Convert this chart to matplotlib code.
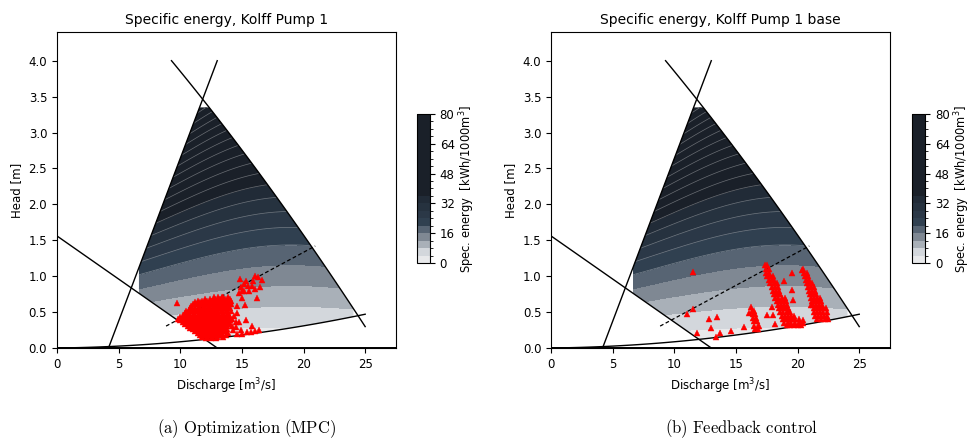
import numpy as np
import matplotlib.pyplot as plt
from matplotlib.patches import Polygon
from matplotlib.colors import ListedColormap, BoundaryNorm

# pump envelope and operating curves (Q in m3/s, H in m)
head_max = 3.35
q_env_min, q_env_max = 6.65, 24.05
sys_q, sys_h = [0.0, 13.0], [1.56, 0.0]          # lower-left straight line
eff_q, eff_h = [4.18, 13.0], [0.0, 4.0]          # steep straight line
speed_coef = [5.774, -0.1743, -0.00179]          # max-speed curve H(Q)
speed_q = [9.29, 25.0]
floor_coef = [0.0, 0.00188, 0.000677]            # lower head curve H(Q)
floor_q = [0.0, 25.0]
best_q, best_h = [8.85, 20.95], [0.305, 1.42]    # dashed line

# specific energy model E(Q, H), kWh/1000m3
e_k, e_qc, e_a, e_d, e_u0 = 0.00267, 19.0, 13.8, 3.6, 1.2
levels = np.arange(0, 84, 4)
band_colors = ['#e8e9eb', '#d3d7dc', '#a9b0b8', '#7f8893', '#576473',
               '#304050', '#2b3847', '#26323f', '#212b37'] + ['#1a2029'] * 11

# operating points, optimization (MPC)
mpc_rows = {
    0.71: [12.7, 13.1, 13.5, 13.9],
    0.685: [12.0, 12.4, 12.8, 13.2, 13.6, 14.0],
    0.66: [11.4, 11.8, 12.2, 12.6, 13.0, 13.4, 13.8, 14.1],
    0.635: [11.2, 11.6, 12.0, 12.4, 12.8, 13.2, 13.6, 14.0],
    0.61: [11.0, 11.3, 11.7, 12.1, 12.5, 12.9, 13.3, 13.7, 14.1],
    0.585: [10.9, 11.5, 11.9, 12.3, 12.7, 13.1, 13.5, 13.9],
    0.56: [10.8, 11.2, 11.6, 12.0, 12.4, 12.8, 13.2, 13.6, 14.0],
    0.535: [10.7, 11.0, 11.4, 11.8, 12.2, 12.6, 13.0, 13.4, 13.8],
    0.51: [10.5, 10.9, 11.3, 11.7, 12.1, 12.5, 12.9, 13.3, 13.7, 14.1],
    0.485: [10.4, 10.7, 11.1, 11.5, 11.9, 12.3, 12.7, 13.1, 13.5, 13.9],
    0.46: [10.2, 10.6, 11.0, 11.4, 11.8, 12.2, 12.6, 13.0, 13.4, 13.8],
    0.435: [10.0, 10.4, 10.8, 11.2, 11.6, 12.0, 12.4, 12.8, 13.2, 13.6, 14.0],
    0.41: [9.8, 10.2, 10.6, 11.0, 11.4, 11.8, 12.2, 12.6, 13.0, 13.4, 13.8, 14.2],
    0.385: [10.0, 10.4, 10.8, 11.2, 11.6, 12.0, 12.4, 12.8, 13.2, 13.6, 14.0],
    0.36: [10.2, 10.6, 11.0, 11.4, 11.8, 12.2, 12.6, 13.0, 13.4, 13.8],
    0.335: [10.4, 10.8, 11.2, 11.6, 12.0, 12.4, 12.8, 13.2, 13.6, 14.0],
    0.31: [10.6, 11.0, 11.4, 11.8, 12.2, 12.6, 13.0, 13.4, 13.8, 14.2],
    0.285: [10.8, 11.2, 11.6, 12.0, 12.4, 12.8, 13.2, 13.6],
    0.26: [11.0, 11.4, 11.8, 12.2, 12.6, 13.0, 13.4, 13.8],
    0.235: [11.2, 11.6, 12.0, 12.4, 12.8, 13.2, 13.6],
    0.21: [11.4, 11.8, 12.2, 12.6, 13.0, 13.4, 13.9],
    0.185: [11.6, 12.0, 12.4, 12.8, 13.2, 13.7],
    0.16: [11.8, 12.2, 12.6, 13.0, 13.5],
    0.14: [12.1, 12.5, 12.9],
}
mpc_q_extra = [9.75, 13.41, 14.82, 16.04, 16.34, 16.66, 15.17, 15.5, 15.85,
               16.48, 14.9, 15.2, 14.8, 16.26, 15.23, 14.63, 14.99, 14.58,
               14.77, 15.31, 15.86, 16.4, 14.5, 14.9, 15.45, 15.0, 15.6, 16.1,
               15.3, 15.9, 14.4, 14.5, 14.3, 14.6, 15.0, 15.7, 16.1]
mpc_h_extra = [0.63, 0.707, 0.957, 1.009, 0.985, 0.948, 0.89, 0.862, 0.862,
               0.855, 0.85, 0.80, 0.76, 0.69, 0.604, 0.59, 0.69, 0.483,
               0.367, 0.39, 0.311, 0.25, 0.298, 0.25, 0.228, 0.80, 0.80, 0.82,
               0.93, 0.93, 0.45, 0.36, 0.25, 0.20, 0.20, 0.22, 0.24]

# operating points, feedback control
fb_rows = {
    1.15: [17.35, 17.55],
    1.10: [17.4, 17.65, 20.45],
    1.05: [17.45, 17.7, 20.5, 20.75],
    1.00: [17.55, 17.8, 18.0, 20.6, 20.85],
    0.95: [17.65, 17.9, 18.1, 20.7, 20.95],
    0.90: [17.8, 18.05, 18.3, 20.75, 21.0, 21.2],
    0.85: [17.9, 18.15, 18.4, 20.85, 21.1, 21.35],
    0.80: [18.0, 18.25, 18.5, 20.95, 21.2, 21.45],
    0.75: [18.1, 18.35, 18.6, 21.0, 21.25, 21.5],
    0.70: [18.2, 18.45, 18.7, 18.95, 21.05, 21.3, 21.55, 21.8],
    0.65: [18.3, 18.55, 18.8, 19.05, 21.15, 21.4, 21.65, 21.9],
    0.60: [18.4, 18.65, 18.9, 19.15, 21.25, 21.5, 21.75, 22.0],
    0.55: [18.5, 18.75, 19.0, 19.25, 21.3, 21.55, 21.8, 22.05, 22.3],
    0.50: [18.6, 18.85, 19.1, 19.35, 21.35, 21.6, 21.85, 22.1, 22.35],
    0.45: [18.7, 18.95, 19.2, 19.45, 19.7, 21.4, 21.65, 21.9, 22.15, 22.4],
    0.40: [18.8, 19.05, 19.3, 19.55, 19.8, 20.1, 21.6, 21.9, 22.2, 22.5],
    0.35: [18.9, 19.2, 19.5, 19.8, 20.1, 20.4],
    0.32: [19.1, 19.4, 19.7, 20.0, 20.3],
    0.57: [16.25],
    0.52: [16.3, 16.45],
    0.47: [16.35, 16.55],
    0.42: [16.4, 16.6],
    0.37: [16.45, 16.7],
    0.30: [16.5, 16.75, 16.9],
    0.26: [16.55, 16.8],
}
fb_q_extra = [11.5, 11.54, 11.05, 12.81, 13.49, 11.86, 13.0, 13.71, 13.35,
              14.63, 15.67, 16.02, 17.51, 17.97, 17.92, 18.16, 18.92, 19.52,
              19.55, 19.65, 19.19, 20.36, 20.41, 21.09]
fb_h_extra = [1.064, 0.543, 0.469, 0.40, 0.427, 0.205, 0.274, 0.214, 0.158,
              0.237, 0.298, 0.493, 0.46, 0.46, 0.576, 0.335, 0.939, 1.04,
              0.809, 0.67, 0.53, 1.087, 0.39, 0.6]


def poly_h(c, q):
    return c[0] + c[1] * q + c[2] * q ** 2


def spec_energy(q, h):
    u = h * (1 + e_k * (q - e_qc) ** 2)
    return e_a * u + e_d * np.maximum(u - e_u0, 0) ** 2


def speed_q_at(h):
    r = np.roots([speed_coef[2], speed_coef[1], speed_coef[0] - h])
    return r[(r > 0) & (r < 40)].real.max()


def envelope():
    slope = (sys_h[1] - sys_h[0]) / (sys_q[1] - sys_q[0])
    r = np.roots([floor_coef[2], floor_coef[1] - slope, floor_coef[0] - sys_h[0]])
    q_bot = r[r > 0].real.min()
    q_tl = np.interp(head_max, eff_h, eff_q)
    q_tr = speed_q_at(head_max)

    pts = [(q_tl, head_max)]
    qs = np.linspace(q_tr, q_env_max, 40)
    pts += list(zip(qs, poly_h(speed_coef, qs)))
    qs = np.linspace(q_env_max, q_bot, 40)
    pts += list(zip(qs, poly_h(floor_coef, qs)))
    pts.append((q_env_min, np.interp(q_env_min, sys_q, sys_h)))
    pts.append((q_env_min, np.interp(q_env_min, eff_q, eff_h)))
    return np.array(pts)


def points(rows, q_extra, h_extra):
    q, h = [], []
    for hv, qv in rows.items():
        q += qv
        h += [hv] * len(qv)
    return np.array(q + q_extra), np.array(h + h_extra)


cmap = ListedColormap(band_colors)
norm = BoundaryNorm(levels, cmap.N)

qg, hg = np.meshgrid(np.linspace(5.5, 25.5, 500), np.linspace(0.0, 3.6, 400))
eg = spec_energy(qg, hg)


def draw_panel(ax, cax, title, q_pts, h_pts):
    env = Polygon(envelope(), closed=True, facecolor='none', edgecolor='none',
                  transform=ax.transData)
    ax.add_patch(env)
    cs = ax.contourf(qg, hg, eg, levels=levels, cmap=cmap, norm=norm)
    cs.set_clip_path(env)
    cl = ax.contour(qg, hg, eg, levels=levels[5:-1], colors='white',
                    linewidths=0.5, alpha=0.35)
    cl.set_clip_path(env)

    ax.plot(sys_q, sys_h, color='k', lw=1.0)
    ax.plot(eff_q, eff_h, color='k', lw=1.0)
    qs = np.linspace(*speed_q, 100)
    ax.plot(qs, poly_h(speed_coef, qs), color='k', lw=1.0)
    qs = np.linspace(*floor_q, 100)
    ax.plot(qs, poly_h(floor_coef, qs), color='k', lw=1.0)
    ax.axhline(0, color='k', lw=1.4)
    ax.plot(best_q, best_h, color='k', lw=0.9, ls=(0, (3, 2)))

    ax.plot(q_pts, h_pts, '^', color='red', ms=4.8, mew=0.3, zorder=5)

    ax.set_xlim(0, 27.5)
    ax.set_ylim(0, 4.4)
    ax.set_xticks(np.arange(0, 26, 5))
    ax.set_yticks(np.arange(0, 4.1, 0.5))
    ax.tick_params(labelsize=8.5)
    ax.set_xlabel('Discharge [m$^3$/s]', fontsize=8.5)
    ax.set_ylabel('Head [m]', fontsize=8.5)
    ax.set_title(title, fontsize=10)

    cb = ax.figure.colorbar(cs, cax=cax, ticks=np.arange(0, 81, 16))
    cb.ax.tick_params(labelsize=8.5)
    cb.set_label('Spec. energy  [kWh/1000m$^3$]', fontsize=8.3, labelpad=2)


fig = plt.figure(figsize=(9.72, 4.41), dpi=100)
ax1 = fig.add_axes([0.0586, 0.2109, 0.3488, 0.7166])
cax1 = fig.add_axes([0.429, 0.4036, 0.0134, 0.338])
ax2 = fig.add_axes([0.5669, 0.2109, 0.3488, 0.7166])
cax2 = fig.add_axes([0.9383, 0.4036, 0.0134, 0.338])

draw_panel(ax1, cax1, 'Specific energy, Kolff Pump 1',
           *points(mpc_rows, mpc_q_extra, mpc_h_extra))
draw_panel(ax2, cax2, 'Specific energy, Kolff Pump 1 base',
           *points(fb_rows, fb_q_extra, fb_h_extra))

fig.text(0.254, 0.018, r'$\mathrm{(a)\ Optimization\ (MPC)}$', ha='center',
         fontsize=12, math_fontfamily='cm')
fig.text(0.763, 0.018, r'$\mathrm{(b)\ Feedback\ control}$', ha='center',
         fontsize=12, math_fontfamily='cm')

fig.savefig('out.png', dpi=100)
